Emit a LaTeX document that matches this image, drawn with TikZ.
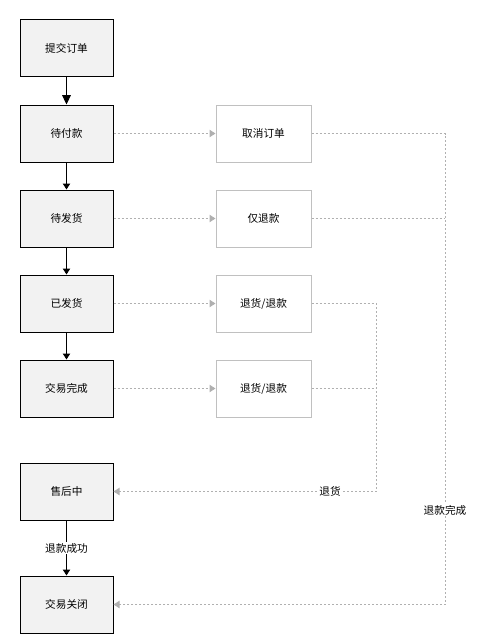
\documentclass[tikz,border=0pt]{standalone}
\usepackage{fontspec}
\newfontfamily\cjk{Noto Sans CJK SC}
\usetikzlibrary{arrows.meta}
\begin{document}
\begin{tikzpicture}[x=0.75pt,y=-0.75pt,
  every node/.style={font=\cjk\fontsize{8}{10}\selectfont, inner sep=0pt},
  lbox/.style={draw=black, fill={rgb,255:red,242;green,242;blue,242}, line width=0.75pt, minimum width=93*0.75pt, minimum height=57*0.75pt},
  rbox/.style={draw={rgb,255:red,192;green,192;blue,192}, fill=white, line width=0.75pt, minimum width=95*0.75pt, minimum height=57*0.75pt},
  solidarrow/.style={draw=black, line width=0.75pt, -{Triangle[width=5.5pt,length=4.5pt]}},
  bigarrow/.style={draw=black, line width=0.75pt, -{Triangle[width=6.5pt,length=7pt]}},
  dl/.style={draw={rgb,255:red,176;green,176;blue,176}, line width=0.75pt, dash pattern=on 1.5pt off 1.5pt},
  dlarrow/.style={dl, -{Triangle[width=5.5pt,length=4.5pt,fill={rgb,255:red,176;green,176;blue,176}]}},
  lbl/.style={fill=white, inner sep=1pt}
]
\useasboundingbox (0,0) rectangle (489,642);
\node[lbox] (submit) at (66.5,48.5) {提交订单};
\node[lbox] (pay) at (66.5,133.5) {待付款};
\node[lbox] (ship) at (66.5,218.5) {待发货};
\node[lbox] (shipped) at (66.5,303.5) {已发货};
\node[lbox] (done) at (66.5,388.5) {交易完成};
\node[lbox] (after) at (66.5,491.5) {售后中};
\node[lbox] (close) at (66.5,604.5) {交易关闭};

\node[rbox] (cancel) at (263.5,133.5) {取消订单};
\node[rbox] (refund) at (263.5,218.5) {仅退款};
\node[rbox] (ret1) at (263.5,303.5) {退货/退款};
\node[rbox] (ret2) at (263.5,388.5) {退货/退款};

\coordinate (cA) at (445,604.5);
\coordinate (cB) at (376,491.5);

\draw[bigarrow] (submit) -- (pay);
\draw[solidarrow] (pay) -- (ship);
\draw[solidarrow] (ship) -- (shipped);
\draw[solidarrow] (shipped) -- (done);
\draw[solidarrow] (after) -- node[lbl]{退款成功} (close);

\draw[dlarrow] (pay) -- (cancel);
\draw[dlarrow] (ship) -- (refund);
\draw[dlarrow] (shipped) -- (ret1);
\draw[dlarrow] (done) -- (ret2);

\draw[dlarrow] (cancel.east) -| (cA) -- (close.east);
\draw[dl] (refund.east) -- (refund.east -| cA);
\draw[dlarrow] (ret1.east) -| (cB) -- (after.east);
\draw[dl] (ret2.east) -- (ret2.east -| cB);
\node[lbl] (lblA) at (445,510) {退款完成};
\node[lbl] (lblB) at (330,491.5) {退货};
\end{tikzpicture}
\end{document}
